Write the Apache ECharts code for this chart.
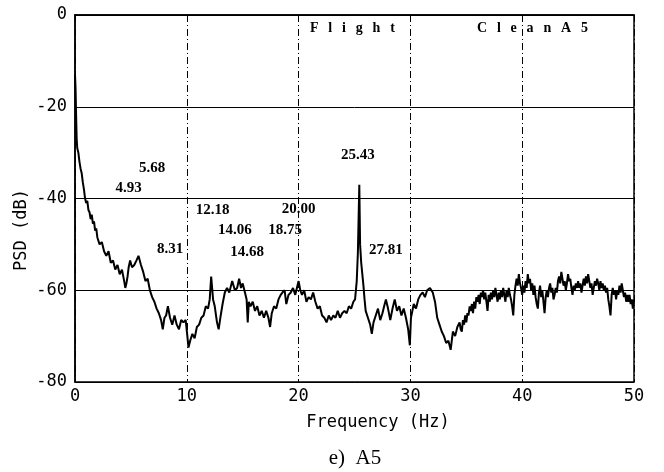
<!DOCTYPE html>
<html>
<head>
<meta charset="utf-8">
<script src="https://cdn.jsdelivr.net/npm/echarts@6/dist/echarts.min.js"></script>
<style>
  html, body { margin: 0; padding: 0; background: #fff; }
  #chart { width: 664px; height: 472px; }
</style>
</head>
<body>
<div id="chart"></div>
<script>
// Power spectral density of the flight record, clean configuration, station A5
const freqHz = [
  0.0, 0.05, 0.1, 0.15, 0.2, 0.3, 0.4, 0.5, 0.6, 0.7, 0.8, 0.9, 1.0, 1.1, 1.2, 1.3, 1.4, 1.5, 1.6, 1.7, 1.8, 1.9,
  2.0, 2.2, 2.4, 2.6, 2.8, 3.0, 3.2, 3.4, 3.6, 3.8, 4.0, 4.2, 4.4, 4.5, 4.6, 4.7, 4.8, 4.93,
  5.1, 5.3, 5.5, 5.68, 5.9, 6.1, 6.3, 6.5, 6.7, 6.9, 7.1, 7.3, 7.5, 7.7, 7.85, 8.0, 8.15, 8.31, 8.5, 8.7, 8.9,
  9.1, 9.3, 9.5, 9.7, 9.9, 10.05, 10.15, 10.3, 10.5, 10.7, 10.9, 11.1, 11.3, 11.5, 11.7, 11.9, 12.05, 12.18,
  12.35, 12.5, 12.7, 12.85, 13.0, 13.2, 13.4, 13.6, 13.8, 14.06, 14.3, 14.5, 14.68, 14.85, 15.0, 15.2, 15.35,
  15.45, 15.55, 15.7, 15.9, 16.1, 16.3, 16.5, 16.7, 16.9, 17.1, 17.3, 17.45, 17.6, 17.8, 18.0, 18.2, 18.4,
  18.55, 18.75, 18.9, 19.1, 19.3, 19.5, 19.7, 19.85, 20.0, 20.15, 20.3, 20.5, 20.7, 20.9, 21.1, 21.3, 21.5,
  21.7, 21.9, 22.1, 22.3, 22.5, 22.7, 22.9, 23.1, 23.3, 23.5, 23.7, 23.9, 24.1, 24.3, 24.5, 24.7, 24.9, 25.05,
  25.2, 25.3, 25.43, 25.5, 25.6, 25.7, 25.8, 25.9, 26.0, 26.2, 26.4, 26.55, 26.7, 26.9, 27.1, 27.3, 27.5,
  27.65, 27.81, 28.0, 28.2, 28.4, 28.6, 28.8, 29.0, 29.2, 29.4, 29.6, 29.8, 29.95, 30.05, 30.3, 30.5, 30.7,
  30.9, 31.1, 31.3, 31.5, 31.75, 32.0, 32.2, 32.4, 32.6, 32.8, 33.0, 33.2, 33.4, 33.6, 33.8, 34.0, 34.2,
  34.4, 34.5, 34.6, 34.7, 34.8, 34.9, 35.0, 35.1, 35.2, 35.3, 35.4, 35.5, 35.6, 35.7, 35.8, 35.9,
  36.0, 36.1, 36.2, 36.3, 36.4, 36.5, 36.6, 36.7, 36.8, 36.9, 37.0, 37.1, 37.2, 37.3, 37.4, 37.5, 37.6, 37.7, 37.8, 37.9,
  38.0, 38.1, 38.2, 38.3, 38.4, 38.5, 38.6, 38.7, 38.8, 38.9, 39.0, 39.1, 39.2, 39.3, 39.4, 39.5, 39.6, 39.7, 39.8, 39.9,
  40.0, 40.1, 40.2, 40.3, 40.4, 40.5, 40.6, 40.7, 40.8, 40.9, 41.0, 41.1, 41.2, 41.3, 41.4, 41.5, 41.6, 41.7, 41.8, 41.9,
  42.0, 42.1, 42.2, 42.3, 42.4, 42.5, 42.6, 42.7, 42.8, 42.9, 43.0, 43.1, 43.2, 43.3, 43.4, 43.5, 43.6, 43.7, 43.8, 43.9,
  44.0, 44.1, 44.2, 44.3, 44.4, 44.5, 44.6, 44.7, 44.8, 44.9, 45.0, 45.1, 45.2, 45.3, 45.4, 45.5, 45.6, 45.7, 45.8, 45.9,
  46.0, 46.1, 46.2, 46.3, 46.4, 46.5, 46.6, 46.7, 46.8, 46.9, 47.0, 47.1, 47.2, 47.3, 47.4, 47.5, 47.6, 47.7, 47.8, 47.9,
  48.0, 48.1, 48.2, 48.3, 48.4, 48.5, 48.6, 48.7, 48.8, 48.9, 49.0, 49.1, 49.2, 49.3, 49.4, 49.5, 49.6, 49.7, 49.8, 49.9,
  50.0
];
const psdDb = [
  -13, -16, -22, -27, -29, -30, -32, -33.5, -34.5, -36.5, -38, -40, -41, -40.5, -42.5, -43, -44.5, -43.5, -45.5, -45, -47, -46.5,
  -48.5, -50, -49.5, -51.5, -52.5, -51.5, -54, -53.5, -55.5, -54.5, -56.5, -55.5, -58, -59.5, -58.5, -57, -55, -53.5,
  -55, -54.5, -53.5, -52.5, -54.5, -56, -58, -57.5, -60, -61.5, -62.5, -64, -65, -66.5, -68.5, -66, -65.5, -63.5, -66, -67.5, -65.5,
  -67.5, -68.5, -66.5, -67, -66.5, -70, -72.5, -71, -69.5, -70.5, -68, -67.5, -66, -65.5, -63.5, -64, -62, -57,
  -62, -63.5, -67, -68.5, -66, -63, -60.5, -59.5, -60.5, -58, -60, -59.5, -57.5, -59.5, -58.5, -60.5, -62,
  -67, -62.5, -63.5, -62.5, -64.5, -63.5, -65.5, -64.5, -66, -64.5, -66, -68, -65, -63.5, -64, -62, -61,
  -60.5, -60, -63, -61, -60.5, -59.5, -61, -59.5, -58, -60, -61, -60, -62.5, -61.5, -62, -60.5, -62.5,
  -64, -63.5, -65.5, -66, -67, -65.5, -66.5, -65.5, -66, -64.5, -66, -65, -64.5, -65, -63.5, -64, -62.5, -62,
  -58, -52, -37, -50, -54, -56.5, -59, -62, -64.5, -66, -67.5, -69.5, -67, -65.5, -64, -66.5, -65,
  -63.5, -62, -64, -66.5, -64, -62, -64.5, -63.5, -65.5, -64, -66, -68.5, -72, -66, -63, -64, -62,
  -61, -60.5, -61.5, -60, -59.5, -60.5, -62.5, -66, -67.5, -69, -70, -71.5, -71, -73, -69, -70, -68,
  -67, -68.5, -69, -66.5, -67.5, -65.5, -67, -65, -65.5, -63.5, -64.5, -63, -65, -62.5, -64, -61.5,
  -62.5, -61, -63, -60.5, -61.5, -60, -62, -60.5, -62.5, -64.5, -61, -62.5, -60.5, -62, -60, -61.5, -59.5, -61, -62.5, -60.5,
  -62, -60, -61.5, -59.5, -61, -62.5, -60, -61.5, -59.5, -61, -62, -63.5, -65.5, -61, -59, -57.5, -59, -56.5, -58.5, -59.5,
  -61, -59, -60.5, -58, -59.5, -56.5, -58.5, -57.5, -60, -58.5, -61, -59, -61.5, -63, -64, -60.5, -59, -61.5, -60, -62.5,
  -65, -61.5, -60, -61.5, -59.5, -58.5, -60.5, -59.5, -62, -61, -59.5, -60.5, -58, -57, -58.5, -56, -57.5, -59, -58, -60,
  -58.5, -56.5, -58, -57.5, -59.5, -61, -59, -60, -58.5, -59.5, -58, -59.5, -58.5, -60.5, -59, -57.5, -59, -57, -58.5, -56.5,
  -58, -59.5, -58.5, -61, -59.5, -58, -59, -57.5, -58.5, -60, -58, -59.5, -58.5, -60, -59, -60.5, -59.5, -62, -63.5, -65.5,
  -61, -59.5, -61, -60, -62, -60, -61, -59, -60.5, -58.5, -60, -61.5, -60.5, -62.5, -61, -62.5, -61, -63, -62, -64,
  -62
];

// Peak annotations: text and the anchor of each label in axis units
const peakText = ['5.68', '4.93', '25.43', '12.18', '20.00', '14.06', '18.75', '8.31', '14.68', '27.81'];
const peakTextFreq = [6.9, 4.8, 25.3, 12.3, 20.0, 14.3, 18.8, 8.5, 15.4, 27.8];
const peakTextDb = [-33.4, -37.7, -30.5, -42.5, -42.3, -46.9, -46.9, -51.0, -51.7, -51.2];

const xTicks = { min: 0, max: 50, step: 10 };
const yTicks = { min: -80, max: 0, step: 20 };

const monoFont = '"DejaVu Sans Mono", monospace';
const serifFont = '"Liberation Serif", "Times New Roman", serif';
const wideGap = '\u2002\u2009';

const chart = echarts.init(document.getElementById('chart'), null, { renderer: 'canvas' });

const lineData = freqHz.map((f, i) => [f, psdDb[i]]);
const labelData = peakText.map((t, i) => [peakTextFreq[i], peakTextDb[i], t]);

chart.setOption({
  backgroundColor: '#ffffff',
  animation: false,
  grid: {
    left: 75, top: 15, right: 30, bottom: 90,
    show: true, borderColor: '#000', borderWidth: 1.5, backgroundColor: 'transparent'
  },
  xAxis: {
    type: 'value',
    min: xTicks.min, max: xTicks.max, interval: xTicks.step,
    axisLine: { show: true, lineStyle: { color: '#000', width: 1.5 } },
    axisTick: { show: false },
    axisLabel: { color: '#000', fontFamily: monoFont, fontSize: 17, margin: 6 },
    splitLine: { show: true, lineStyle: { color: '#000', width: 1, type: [7, 3, 1, 3] } }
  },
  yAxis: {
    type: 'value',
    min: yTicks.min, max: yTicks.max, interval: yTicks.step,
    axisLine: { show: true, lineStyle: { color: '#000', width: 1.5 } },
    axisTick: { show: false },
    axisLabel: { color: '#000', fontFamily: monoFont, fontSize: 17, margin: 8 },
    splitLine: { show: true, lineStyle: { color: '#000', width: 1 } }
  },
  series: [
    {
      type: 'line',
      data: lineData,
      showSymbol: false,
      symbol: 'none',
      lineStyle: { color: '#000', width: 2 },
      z: 3
    },
    {
      type: 'scatter',
      data: labelData,
      symbolSize: 0,
      itemStyle: { opacity: 1 },
      label: {
        show: true,
        position: 'inside',
        formatter: p => p.data[2],
        color: '#000',
        opacity: 1,
        textBorderWidth: 0,
        fontFamily: serifFont,
        fontWeight: 'bold',
        fontSize: 15
      },
      z: 4
    }
  ],
  graphic: [
    {
      type: 'text', left: 310, top: 21,
      style: { text: ['F', 'l', 'i', 'g', 'h', 't'].join(wideGap), fontFamily: serifFont, fontSize: 14, fontWeight: 'bold', fill: '#000' }
    },
    {
      type: 'text', left: 477, top: 21,
      style: { text: ['C', 'l', 'e', 'a', 'n', 'A', '5'].join(wideGap), fontFamily: serifFont, fontSize: 14, fontWeight: 'bold', fill: '#000' }
    },
    {
      type: 'text', x: 22, y: 230, rotation: Math.PI / 2,
      style: { text: 'PSD (dB)', fontFamily: monoFont, fontSize: 17, fill: '#000', align: 'center', verticalAlign: 'middle' }
    },
    {
      type: 'text', x: 378, y: 423,
      style: { text: 'Frequency (Hz)', fontFamily: monoFont, fontSize: 17, fill: '#000', align: 'center', verticalAlign: 'middle' }
    },
    {
      type: 'text', x: 355, y: 458,
      style: { text: 'e)  A5', fontFamily: serifFont, fontSize: 21, fill: '#000', align: 'center', verticalAlign: 'middle' }
    }
  ]
});
</script>
</body>
</html>
